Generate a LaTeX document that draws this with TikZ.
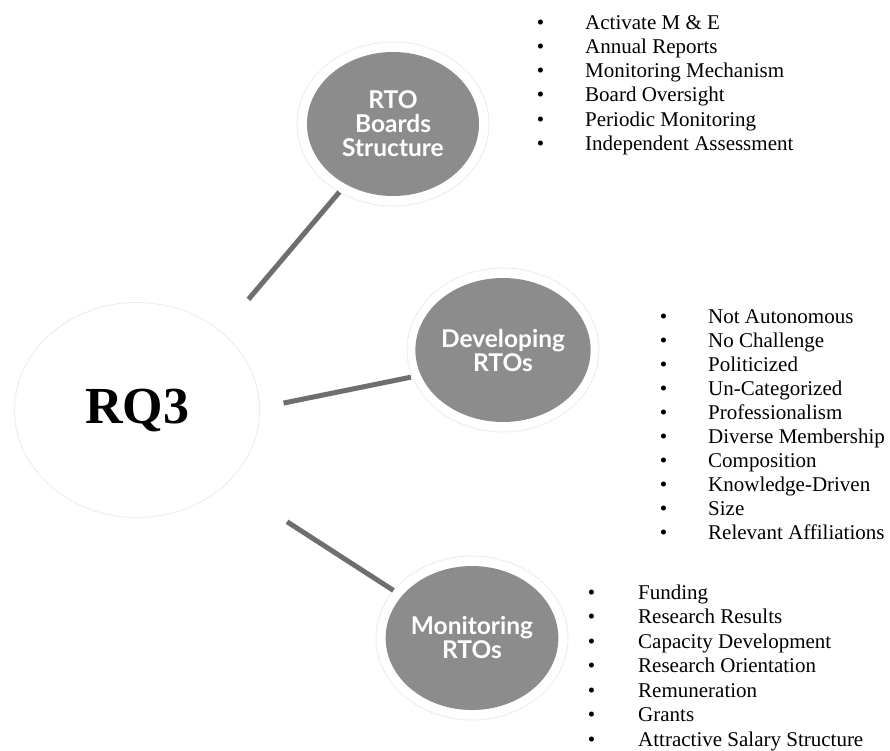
\documentclass[tikz,border=0pt]{standalone}
\usepackage{fontspec}
\setmainfont{Liberation Serif}
\newfontfamily\topicfont{Lato}
\usetikzlibrary{shapes.geometric}

\definecolor{topicgray}{HTML}{8C8C8C}
\definecolor{linkgray}{HTML}{6E6E6E}
\definecolor{halogray}{HTML}{E0E0E0}

\begin{document}
\begin{tikzpicture}[x = 1pt, y = -1pt,
    topic/.style = {ellipse, fill = topicgray, text = white, minimum width = 172pt, minimum height = 144pt,
                    inner sep = 0pt, align = center, font = \topicfont\bfseries\fontsize{24.5}{24}\selectfont},
    core/.style = {ellipse, draw = halogray, densely dotted, line width = 1pt, minimum width = 245pt,
                   minimum height = 215pt, font = \bfseries\fontsize{52}{60}\selectfont},
    halo/.style = {draw = halogray, line width = 1pt, densely dotted},
    link/.style = {draw = linkgray, line width = 5pt},
    item/.style = {anchor = base west, inner sep = 0pt, font = \fontsize{21}{24}\selectfont}]
  \useasboundingbox (0, 0) rectangle (890, 750);
  \node [core] (rq) at (137, 410){RQ3};
  \node [topic] (rto) at (393, 124){RTO\\Boards\\Structure};
  \node [topic] (dev) at (503, 350){Developing\\RTOs};
  \node [topic] (mon) at (472, 638){Monitoring\\RTOs};
  \foreach \n in {rto, dev, mon}
    \draw [halo] (\n) ellipse [x radius = 96pt, y radius = 82pt];
  \draw [link, shorten < = 42pt, shorten > = 10pt] (rq.43) -- (rto.232);
  \draw [link, shorten < = 24pt, shorten > = 10pt] (rq.1) -- (dev.197);
  \draw [link, shorten < = 71pt, shorten > = 10pt] (rq.-39) -- (mon.149);
  \foreach \t [count = \i] in {Activate M \& E, Annual Reports, Monitoring Mechanism, Board Oversight,
                               Periodic Monitoring, Independent Assessment}
    \node [item] (rto-\i) at (585, 5 + 24.2 * \i){\llap{\textbullet\hspace{41pt}}\t};
  \foreach \t [count = \i] in {Not Autonomous, No Challenge, Politicized, Un-Categorized, Professionalism,
                               Diverse Membership, Composition, Knowledge-Driven, Size, Relevant Affiliations}
    \node [item] (dev-\i) at (708, 299 + 24 * \i){\llap{\textbullet\hspace{41pt}}\t};
  \foreach \t [count = \i] in {Funding, Research Results, Capacity Development, Research Orientation,
                               Remuneration, Grants, Attractive Salary Structure}
    \node [item] (mon-\i) at (638, 574.5 + 24.5 * \i){\llap{\textbullet\hspace{43pt}}\t};
\end{tikzpicture}
\end{document}
